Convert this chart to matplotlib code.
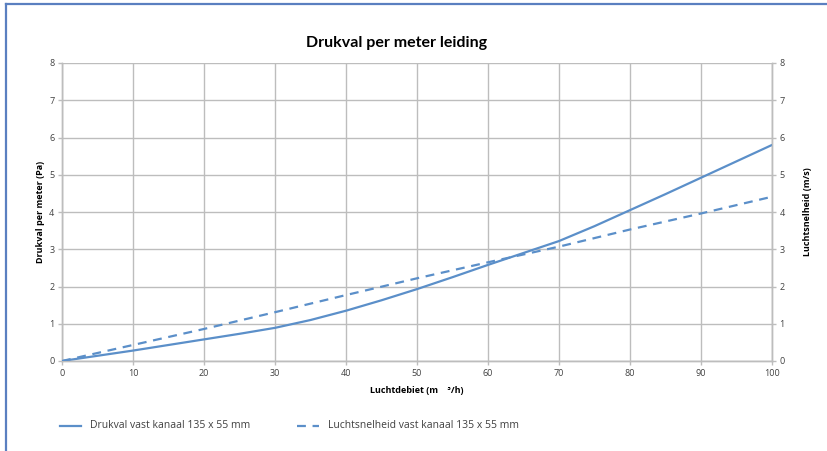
import matplotlib
matplotlib.use("Agg")
import matplotlib.pyplot as plt
from matplotlib.lines import Line2D

x_flow = [0, 5, 10, 15, 20, 25, 30, 35, 40, 45, 50, 55, 60, 65, 70, 75, 80, 85, 90, 95, 100]
drukval = [0, 0.14, 0.28, 0.43, 0.58, 0.73, 0.89, 1.1, 1.35, 1.63, 1.93, 2.25, 2.58, 2.9, 3.22, 3.62, 4.05, 4.48, 4.92, 5.36, 5.8]
x_speed = [0, 10, 20, 30, 40, 50, 60, 70, 80, 90, 100]
snelheid = [0, 0.43, 0.86, 1.31, 1.77, 2.22, 2.65, 3.07, 3.53, 3.96, 4.41]

xticks = [0, 10, 20, 30, 40, 50, 60, 70, 80, 90, 100]
yticks = [0, 1, 2, 3, 4, 5, 6, 7, 8]

title = "Drukval per meter leiding"
xlabel = "Luchtdebiet (m    \u00b3/h)"
ylabel_left = "Drukval per meter (Pa)"
ylabel_right = "Luchtsnelheid (m/s)"
label_solid = "Drukval vast kanaal 135 x 55 mm"
label_dashed = "Luchtsnelheid vast kanaal 135 x 55 mm"

plt.rcParams['font.family'] = ['Open Sans', 'DejaVu Sans']

W, H = 827, 451
fig = plt.figure(figsize=(W / 100, H / 100), dpi=100)
fig.patch.set_facecolor("white")

x0, x1 = 62, 772
y0, y1 = 361, 63
ax = fig.add_axes([x0 / W, 1 - y0 / H, (x1 - x0) / W, (y0 - y1) / H])
ax2 = ax.twinx()

line_col = "#5b8fc9"
grid_col = "#bdbdbd"
txt_col = "#404040"

ax.plot(x_flow, drukval, color=line_col, lw=1.6, solid_capstyle="round", zorder=3)
ax2.plot(x_speed, snelheid, color=line_col, lw=1.6, dashes=(4, 3), zorder=3)

for a in (ax, ax2):
    a.set_xlim(0, 100)
    a.set_ylim(0, 8)
    a.set_yticks(yticks)
    for s in a.spines.values():
        s.set_color(grid_col)
        s.set_linewidth(1)
    a.spines["top"].set_visible(False)
    a.tick_params(axis="both", colors=grid_col, labelcolor=txt_col, labelsize=6.5,
                  length=3, width=1, pad=2.5)

ax.set_xticks(xticks)
ax.grid(True, color=grid_col, lw=1)
ax.set_axisbelow(True)
ax2.set_xticks(xticks)

ax.set_xlabel(xlabel, fontsize=6.5, fontweight="bold", color="#000000", labelpad=6)
ax.set_ylabel(ylabel_left, fontsize=6.5, fontweight="bold", color="#000000", labelpad=3)
ax2.set_ylabel(ylabel_right, fontsize=6.5, fontweight="bold", color="#000000", labelpad=13)

fig.text(397 / W, 1 - 43 / H, title, ha="center", va="center", fontsize=11.5,
         fontweight="bold", color="#000000", family=["Lato", "DejaVu Sans"])

# legend
ly = 1 - 426 / H
fig.add_artist(Line2D([60 / W, 81 / W], [ly, ly], color=line_col, lw=1.6))
fig.text(90 / W, ly, label_solid, ha="left", va="center", fontsize=7.5, color=txt_col)
fig.add_artist(Line2D([297 / W, 319 / W], [ly, ly], color=line_col, lw=1.6, dashes=(4, 3)))
fig.text(328 / W, ly, label_dashed, ha="left", va="center", fontsize=7.5, color=txt_col)

# frame border (top and left)
border_col = "#5a7fc0"
fig.add_artist(Line2D([6 / W, 1], [1 - 4 / H, 1 - 4 / H], color=border_col, lw=1.6))
fig.add_artist(Line2D([6 / W, 6 / W], [0, 1 - 4 / H], color=border_col, lw=1.6))

fig.savefig("out.png", dpi=100, facecolor="white")
